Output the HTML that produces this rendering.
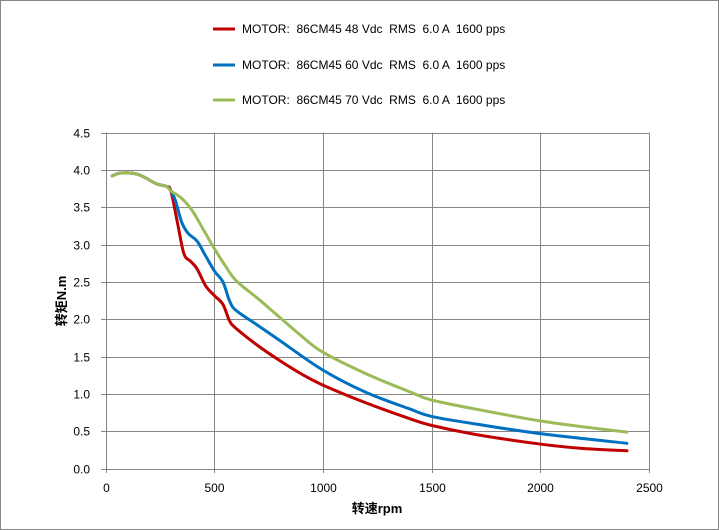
<!DOCTYPE html>
<html><head><meta charset="utf-8"><style>
html,body{margin:0;padding:0;background:#fff}
svg{display:block}
text{font-family:"Liberation Sans","Noto Sans CJK SC",sans-serif;fill:#000;white-space:pre}
</style></head><body>
<svg id="s" width="719" height="530" xmlns="http://www.w3.org/2000/svg">
<rect x="0.5" y="0.5" width="718" height="529" fill="#fff" stroke="#868686"/>
<g id="grid" stroke="#868686" stroke-width="1"></g>
<g font-size="12">
<line x1="213" y1="29" x2="235" y2="29" stroke="#c00000" stroke-width="3"/>
<text x="242" y="33" xml:space="preserve">MOTOR:  86CM45 48 Vdc  RMS  6.0 A  1600 pps</text>
<line x1="213" y1="65" x2="235" y2="65" stroke="#0070c0" stroke-width="3"/>
<text x="242" y="69" xml:space="preserve">MOTOR:  86CM45 60 Vdc  RMS  6.0 A  1600 pps</text>
<line x1="213" y1="100" x2="235" y2="100" stroke="#9bbb59" stroke-width="3"/>
<text x="242" y="104" xml:space="preserve">MOTOR:  86CM45 70 Vdc  RMS  6.0 A  1600 pps</text>
</g>
<g id="labels" font-size="12"></g>
<g id="series" fill="none" stroke-width="3" stroke-linejoin="round" stroke-linecap="round"></g>
<text x="377" y="513" font-size="13" font-weight="bold" text-anchor="middle">转速rpm</text>
<text transform="translate(66,301) rotate(-90)" font-size="13" font-weight="bold" text-anchor="middle">转矩N.m</text>
</svg>
<script>
var X=function(r){return 105.7+0.21720*r},Y=function(t){return 468.7-74.67*t};
var ns="http://www.w3.org/2000/svg",g=document.getElementById('grid'),l=document.getElementById('labels');
function el(p,n,a,txt){var e=document.createElementNS(ns,n);for(var k in a)e.setAttribute(k,a[k]);if(txt!=null)e.textContent=txt;p.appendChild(e);return e;}
for(var i=0;i<=9;i++){var y=Math.round(Y(i*0.5))+0.5;el(g,'line',{x1:101,x2:649,y1:y,y2:y});el(l,'text',{x:90,y:y+4,'text-anchor':'end'},(i*0.5).toFixed(1));}
for(var j=0;j<=5;j++){var x=Math.round(X(j*500))+0.5;el(g,'line',{x1:x,x2:x,y1:Y(4.5),y2:473});el(l,'text',{x:x,y:492,'text-anchor':'middle'},String(j*500));}
var head=[[30,3.92],[70,3.96],[150,3.94],[230,3.82],[280,3.78],[300,3.72]];
var red=head.concat([[330,3.3],[360,2.88],[390,2.78],[420,2.68],[460,2.45],[500,2.32],[540,2.2],[570,1.98],[600,1.88],[700,1.65],[800,1.45],[900,1.27],[1000,1.12],[1200,0.88],[1400,0.67],[1500,0.58],[1700,0.46],[2000,0.33],[2200,0.27],[2400,0.24]]);
var blue=head.concat([[320,3.6],[350,3.3],[380,3.15],[420,3.05],[460,2.85],[500,2.65],[540,2.5],[570,2.25],[600,2.12],[700,1.92],[800,1.72],[1000,1.32],[1200,1.02],[1400,0.8],[1500,0.7],[1700,0.6],[2000,0.47],[2400,0.34]]);
var green=head.concat([[350,3.62],[400,3.45],[450,3.2],[500,2.95],[550,2.72],[600,2.52],[700,2.28],[800,2.03],[900,1.78],[1000,1.56],[1200,1.27],[1400,1.03],[1500,0.92],[1700,0.8],[2000,0.64],[2200,0.56],[2400,0.49]]);
function path(d){var p=d.map(function(a){return [X(a[0]),Y(a[1])]});var s='M'+p[0][0]+','+p[0][1];
for(var i=0;i<p.length-1;i++){var p0=p[i-1]||p[i],p1=p[i],p2=p[i+1],p3=p[i+2]||p2;
s+=' C'+(p1[0]+(p2[0]-p0[0])/6)+','+(p1[1]+(p2[1]-p0[1])/6)+' '+(p2[0]-(p3[0]-p1[0])/6)+','+(p2[1]-(p3[1]-p1[1])/6)+' '+p2[0]+','+p2[1];}return s;}
var sg=document.getElementById('series');
el(sg,'path',{d:path(red),stroke:'#c00000'});
el(sg,'path',{d:path(blue),stroke:'#0070c0'});
el(sg,'path',{d:path(green),stroke:'#9bbb59'});
</script>
</body></html>
